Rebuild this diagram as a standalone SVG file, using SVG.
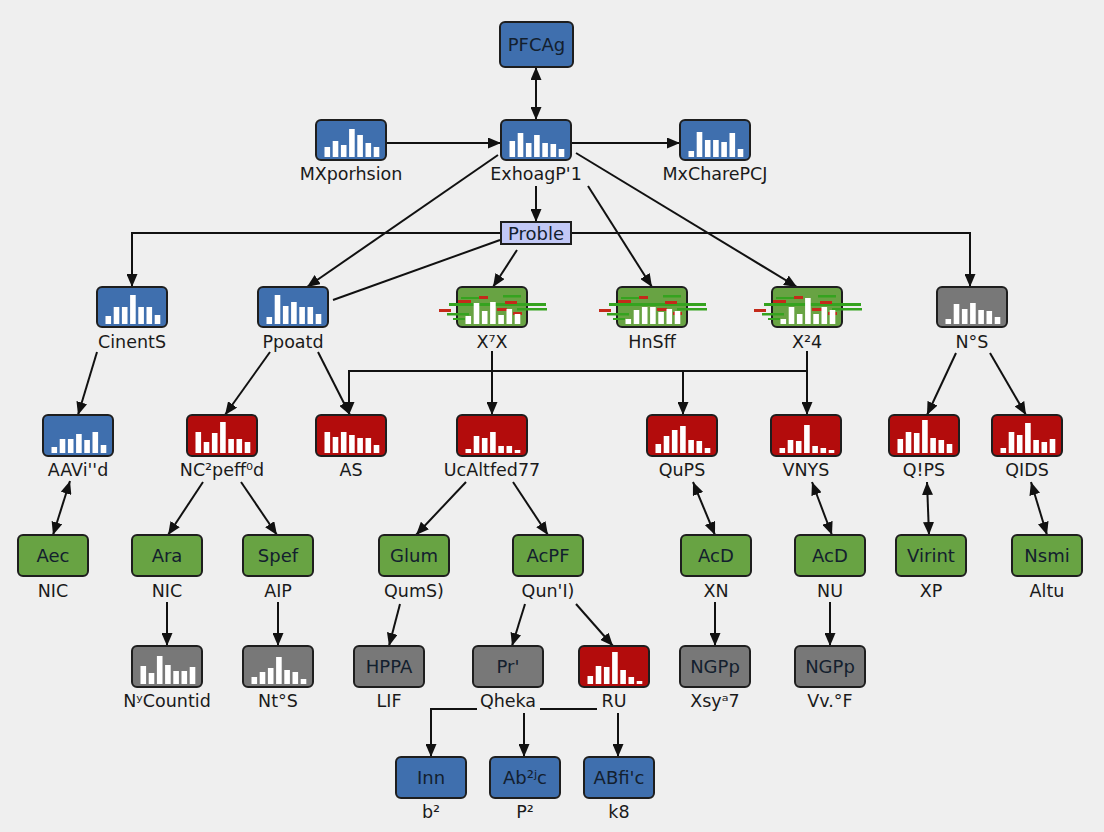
<svg xmlns="http://www.w3.org/2000/svg" xmlns:xlink="http://www.w3.org/1999/xlink" width="1104" height="832" viewBox="0 0 1104 832">
<style>
.bx{stroke:#1e1e1e;stroke-width:2}
.bl{fill:#3f6fae}.rd{fill:#b30c0c}.gr{fill:#68a343}.gy{fill:#787878}.pr{fill:#c2c8f6}
.bars{fill:#ffffff}
.lb{font-family:"DejaVu Sans",sans-serif;font-size:17.5px;fill:#1a1a1a;text-anchor:middle}
.bt{font-family:"DejaVu Sans",sans-serif;font-size:18px;fill:#13202e;text-anchor:middle}
.c{stroke:#111;stroke-width:2;fill:none}
.a{marker-end:url(#ah)}
.d{marker-start:url(#ah);marker-end:url(#ah)}
.gg{fill:#35a31f}.gx{fill:#c42a1a}
</style>
<defs>
<marker id="ah" viewBox="0 0 13 11" refX="13" refY="5.5" markerWidth="13" markerHeight="11" markerUnits="userSpaceOnUse" orient="auto-start-reverse">
<path d="M0,0 L13,5.5 L0,11 z" fill="#111"/>
</marker>
<g id="gl">
<rect class="gg" x="-8" y="16" width="97" height="3"/>
<rect class="gg" x="-10" y="26" width="22" height="2.5"/>
<rect class="gg" x="46" y="8" width="18" height="2.5"/>
<rect class="gg" x="60" y="21" width="30" height="2.5"/>
<rect class="gg" x="4" y="10" width="24" height="2"/>
<rect class="gg" x="-4" y="31" width="12" height="2"/>
<rect class="gx" x="-18" y="22" width="12" height="3"/>
<rect class="gx" x="1" y="13" width="13" height="3"/>
<rect class="gx" x="22" y="9" width="9" height="3"/>
<rect class="gx" x="48" y="14" width="12" height="3"/>
<rect class="gx" x="40" y="21" width="10" height="3"/>
<rect class="gx" x="56" y="25" width="9" height="3"/>
</g>
</defs>
<rect width="1104" height="832" fill="#efefef"/>

<g id="connectors">
<line class="c d" x1="536" y1="67" x2="536" y2="120"/>
<line class="c a" x1="387" y1="143" x2="501" y2="143"/>
<line class="c a" x1="571" y1="143" x2="680" y2="143"/>
<line class="c a" x1="536" y1="186" x2="536" y2="222"/>
<line class="c a" x1="498" y1="155" x2="307" y2="287"/>
<line class="c a" x1="576" y1="153" x2="797" y2="287"/>
<line class="c a" x1="588" y1="186" x2="652" y2="287"/>
<polyline class="c a" points="501,233 132,233 132,287"/>
<polyline class="c a" points="571,233 970,233 970,287"/>
<line class="c" x1="333" y1="300" x2="500" y2="240"/>
<line class="c a" x1="517" y1="250" x2="493" y2="287"/>
<line class="c a" x1="97" y1="352" x2="78" y2="415"/>
<line class="c a" x1="270" y1="352" x2="225" y2="415"/>
<line class="c a" x1="318" y1="352" x2="350" y2="415"/>
<line class="c" x1="348" y1="371" x2="808" y2="371"/>
<line class="c a" x1="349" y1="371" x2="349" y2="415"/>
<line class="c a" x1="492" y1="351" x2="492" y2="415"/>
<line class="c a" x1="683" y1="371" x2="683" y2="415"/>
<line class="c a" x1="807" y1="351" x2="807" y2="415"/>
<line class="c a" x1="956" y1="353" x2="927" y2="415"/>
<line class="c a" x1="990" y1="353" x2="1026" y2="415"/>
<line class="c d" x1="70" y1="481" x2="53" y2="535"/>
<line class="c a" x1="203" y1="482" x2="168" y2="535"/>
<line class="c a" x1="241" y1="482" x2="277" y2="535"/>
<line class="c a" x1="466" y1="482" x2="416" y2="535"/>
<line class="c a" x1="513" y1="482" x2="548" y2="535"/>
<line class="c d" x1="693" y1="482" x2="715" y2="535"/>
<line class="c d" x1="812" y1="482" x2="832" y2="535"/>
<line class="c d" x1="927" y1="482" x2="929" y2="535"/>
<line class="c d" x1="1031" y1="482" x2="1047" y2="535"/>
<line class="c a" x1="167" y1="602" x2="167" y2="646"/>
<line class="c a" x1="278" y1="602" x2="278" y2="646"/>
<line class="c a" x1="400" y1="604" x2="389" y2="646"/>
<line class="c a" x1="525" y1="604" x2="512" y2="646"/>
<line class="c a" x1="576" y1="604" x2="613" y2="646"/>
<line class="c a" x1="715" y1="602" x2="715" y2="646"/>
<line class="c a" x1="830" y1="602" x2="830" y2="646"/>
<polyline class="c a" points="477,709 431,709 431,757"/>
<line class="c" x1="540" y1="709" x2="597" y2="709"/>
<line class="c a" x1="524" y1="713" x2="524" y2="757"/>
<line class="c a" x1="618" y1="713" x2="618" y2="757"/>
</g>

<g id="n-pfcag"><rect class="bx bl" x="500" y="22" width="73" height="45" rx="5"/><text class="bt" x="536.5" y="51">PFCAg</text></g>

<g id="n-mxpor"><rect class="bx bl" x="316" y="120" width="70" height="40" rx="5"/><path class="bars" transform="translate(316,120)" d="M8.5 37v-10h5.6V37zM16.7 37v-16h5.6V37zM24.9 37v-12h5.6V37zM33.1 37v-28h5.6V37zM41.3 37v-22h5.6V37zM49.5 37v-14h5.6V37zM57.7 37v-10h5.6V37z"/><text class="lb" x="351" y="180">MXporhsion</text></g>

<g id="n-exhoag"><rect class="bx bl" x="501" y="120" width="70" height="40" rx="5"/><path class="bars" transform="translate(501,120)" d="M8.5 37v-16h5.6V37zM16.7 37v-24h5.6V37zM24.9 37v-14h5.6V37zM33.1 37v-22h5.6V37zM41.3 37v-14h5.6V37zM49.5 37v-13h5.6V37zM57.7 37v-8h5.6V37z"/><text class="lb" x="536" y="180">ExhoagP'1</text></g>

<g id="n-mxchare"><rect class="bx bl" x="680" y="120" width="70" height="40" rx="5"/><path class="bars" transform="translate(680,120)" d="M8.5 37v-6h5.6V37zM16.7 37v-25h5.6V37zM24.9 37v-17h5.6V37zM33.1 37v-17h5.6V37zM41.3 37v-15h5.6V37zM49.5 37v-24h5.6V37zM57.7 37v-8h5.6V37z"/><text class="lb" x="715" y="180">MxCharePCJ</text></g>

<g id="n-proble"><rect class="bx pr" x="501" y="222" width="70" height="22"/><text class="bt" x="536" y="240">Proble</text></g>

<g id="n-cinents"><rect class="bx bl" x="97" y="287" width="70" height="40" rx="5"/><path class="bars" transform="translate(97,287)" d="M8.5 37v-8h5.6V37zM16.7 37v-17h5.6V37zM24.9 37v-17h5.6V37zM33.1 37v-29h5.6V37zM41.3 37v-17h5.6V37zM49.5 37v-17h5.6V37zM57.7 37v-9h5.6V37z"/><text class="lb" x="132" y="348">CinentS</text></g>

<g id="n-ppoatd"><rect class="bx bl" x="258" y="287" width="70" height="40" rx="5"/><path class="bars" transform="translate(258,287)" d="M8.5 37v-7h5.6V37zM16.7 37v-29h5.6V37zM24.9 37v-18h5.6V37zM33.1 37v-22h5.6V37zM41.3 37v-17h5.6V37zM49.5 37v-17h5.6V37zM57.7 37v-10h5.6V37z"/><text class="lb" x="293" y="348">Ppoatd</text></g>

<g id="n-x7x"><rect class="bx gr" x="457" y="287" width="70" height="40" rx="5"/><use href="#gl" x="457" y="287"/><path class="bars" transform="translate(457,287)" d="M8.5 37v-8h5.6V37zM16.7 37v-21h5.6V37zM24.9 37v-13h5.6V37zM33.1 37v-22h5.6V37zM41.3 37v-9h5.6V37zM49.5 37v-15h5.6V37zM57.7 37v-10h5.6V37z"/><text class="lb" x="492" y="348">X⁷X</text></g>

<g id="n-hnsff"><rect class="bx gr" x="617" y="287" width="70" height="40" rx="5"/><use href="#gl" x="617" y="287"/><path class="bars" transform="translate(617,287)" d="M8.5 37v-5h5.6V37zM16.7 37v-14h5.6V37zM24.9 37v-17h5.6V37zM33.1 37v-17h5.6V37zM41.3 37v-12h5.6V37zM49.5 37v-15h5.6V37zM57.7 37v-13h5.6V37z"/><text class="lb" x="652" y="348">HnSff</text></g>

<g id="n-x24"><rect class="bx gr" x="772" y="287" width="70" height="40" rx="5"/><use href="#gl" x="772" y="287"/><path class="bars" transform="translate(772,287)" d="M8.5 37v-5h5.6V37zM16.7 37v-17h5.6V37zM24.9 37v-10h5.6V37zM33.1 37v-26h5.6V37zM41.3 37v-10h5.6V37zM49.5 37v-17h5.6V37zM57.7 37v-14h5.6V37z"/><text class="lb" x="807" y="348">X²4</text></g>

<g id="n-nos"><rect class="bx gy" x="937" y="287" width="70" height="40" rx="5"/><path class="bars" transform="translate(937,287)" d="M8.5 37v-5h5.6V37zM16.7 37v-20h5.6V37zM24.9 37v-15h5.6V37zM33.1 37v-21h5.6V37zM41.3 37v-14h5.6V37zM49.5 37v-13h5.6V37zM57.7 37v-7h5.6V37z"/><text class="lb" x="972" y="348">N°S</text></g>

<g id="n-aavid"><rect class="bx bl" x="43" y="415" width="70" height="41" rx="5"/><path class="bars" transform="translate(43,415)" d="M8.5 38v-6h5.6V38zM16.7 38v-14h5.6V38zM24.9 38v-14h5.6V38zM33.1 38v-19h5.6V38zM41.3 38v-13h5.6V38zM49.5 38v-21h5.6V38zM57.7 38v-8h5.6V38z"/><text class="lb" x="78" y="476">AAVi''d</text></g>

<g id="n-nc2"><rect class="bx rd" x="187" y="415" width="70" height="41" rx="5"/><path class="bars" transform="translate(187,415)" d="M8.5 38v-21h5.6V38zM16.7 38v-11h5.6V38zM24.9 38v-20h5.6V38zM33.1 38v-31h5.6V38zM41.3 38v-14h5.6V38zM49.5 38v-14h5.6V38zM57.7 38v-11h5.6V38z"/><text class="lb" x="222" y="476">NC²peff⁰d</text></g>

<g id="n-as"><rect class="bx rd" x="316" y="415" width="70" height="41" rx="5"/><path class="bars" transform="translate(316,415)" d="M8.5 38v-21h5.6V38zM16.7 38v-16h5.6V38zM24.9 38v-21h5.6V38zM33.1 38v-18h5.6V38zM41.3 38v-15h5.6V38zM49.5 38v-15h5.6V38zM57.7 38v-8h5.6V38z"/><text class="lb" x="351" y="476">AS</text></g>

<g id="n-ucalt"><rect class="bx rd" x="457" y="415" width="70" height="41" rx="5"/><path class="bars" transform="translate(457,415)" d="M8.5 38v-4h5.6V38zM16.7 38v-17h5.6V38zM24.9 38v-15h5.6V38zM33.1 38v-21h5.6V38zM41.3 38v-7h5.6V38zM49.5 38v-7h5.6V38zM57.7 38v-3h5.6V38z"/><text class="lb" x="492" y="476">UcAltfed77</text></g>

<g id="n-qups"><rect class="bx rd" x="647" y="415" width="70" height="41" rx="5"/><path class="bars" transform="translate(647,415)" d="M8.5 38v-9h5.6V38zM16.7 38v-17h5.6V38zM24.9 38v-23h5.6V38zM33.1 38v-27h5.6V38zM41.3 38v-13h5.6V38zM49.5 38v-12h5.6V38zM57.7 38v-5h5.6V38z"/><text class="lb" x="682" y="476">QuPS</text></g>

<g id="n-vnys"><rect class="bx rd" x="771" y="415" width="70" height="41" rx="5"/><path class="bars" transform="translate(771,415)" d="M8.5 38v-5h5.6V38zM16.7 38v-13h5.6V38zM24.9 38v-12h5.6V38zM33.1 38v-28h5.6V38zM41.3 38v-7h5.6V38zM49.5 38v-5h5.6V38zM57.7 38v-3h5.6V38z"/><text class="lb" x="806" y="476">VNYS</text></g>

<g id="n-qips"><rect class="bx rd" x="889" y="415" width="70" height="41" rx="5"/><path class="bars" transform="translate(889,415)" d="M8.5 38v-14h5.6V38zM16.7 38v-21h5.6V38zM24.9 38v-20h5.6V38zM33.1 38v-33h5.6V38zM41.3 38v-15h5.6V38zM49.5 38v-13h5.6V38zM57.7 38v-9h5.6V38z"/><text class="lb" x="924" y="476">Q!PS</text></g>

<g id="n-qids"><rect class="bx rd" x="992" y="415" width="70" height="41" rx="5"/><path class="bars" transform="translate(992,415)" d="M8.5 38v-5h5.6V38zM16.7 38v-21h5.6V38zM24.9 38v-18h5.6V38zM33.1 38v-30h5.6V38zM41.3 38v-13h5.6V38zM49.5 38v-11h5.6V38zM57.7 38v-14h5.6V38z"/><text class="lb" x="1027" y="476">QIDS</text></g>

<g id="n-aec"><rect class="bx gr" x="18" y="535" width="70" height="41" rx="5"/><text class="bt" x="53" y="562">Aec</text><text class="lb" x="53" y="597">NIC</text></g>
<g id="n-ara"><rect class="bx gr" x="132" y="535" width="70" height="41" rx="5"/><text class="bt" x="167" y="562">Ara</text><text class="lb" x="167" y="597">NIC</text></g>
<g id="n-spef"><rect class="bx gr" x="243" y="535" width="70" height="41" rx="5"/><text class="bt" x="278" y="562">Spef</text><text class="lb" x="278" y="597">AIP</text></g>
<g id="n-glum"><rect class="bx gr" x="379" y="535" width="70" height="41" rx="5"/><text class="bt" x="414" y="562">Glum</text><text class="lb" x="414" y="597">QumS)</text></g>
<g id="n-acpf"><rect class="bx gr" x="513" y="535" width="70" height="41" rx="5"/><text class="bt" x="548" y="562">AcPF</text><text class="lb" x="548" y="597">Qun'I)</text></g>
<g id="n-acd1"><rect class="bx gr" x="681" y="535" width="70" height="41" rx="5"/><text class="bt" x="716" y="562">AcD</text><text class="lb" x="716" y="597">XN</text></g>
<g id="n-acd2"><rect class="bx gr" x="795" y="535" width="70" height="41" rx="5"/><text class="bt" x="830" y="562">AcD</text><text class="lb" x="830" y="597">NU</text></g>
<g id="n-virint"><rect class="bx gr" x="896" y="535" width="70" height="41" rx="5"/><text class="bt" x="931" y="562">Virint</text><text class="lb" x="931" y="597">XP</text></g>
<g id="n-nsmi"><rect class="bx gr" x="1012" y="535" width="70" height="41" rx="5"/><text class="bt" x="1047" y="562">Nsmi</text><text class="lb" x="1047" y="597">Altu</text></g>

<g id="n-nycount"><rect class="bx gy" x="132" y="646" width="70" height="41" rx="5"/><path class="bars" transform="translate(132,646)" d="M8.5 38v-18h5.6V38zM16.7 38v-11h5.6V38zM24.9 38v-28h5.6V38zM33.1 38v-19h5.6V38zM41.3 38v-13h5.6V38zM49.5 38v-13h5.6V38zM57.7 38v-17h5.6V38z"/><text class="lb" x="167" y="707">NʸCountid</text></g>
<g id="n-ntos"><rect class="bx gy" x="243" y="646" width="70" height="41" rx="5"/><path class="bars" transform="translate(243,646)" d="M8.5 38v-7h5.6V38zM16.7 38v-12h5.6V38zM24.9 38v-16h5.6V38zM33.1 38v-27h5.6V38zM41.3 38v-14h5.6V38zM49.5 38v-12h5.6V38zM57.7 38v-5h5.6V38z"/><text class="lb" x="278" y="707">Nt°S</text></g>
<g id="n-hppa"><rect class="bx gy" x="354" y="646" width="70" height="41" rx="5"/><text class="bt" x="389" y="673">HPPA</text><text class="lb" x="389" y="707">LIF</text></g>
<g id="n-pr"><rect class="bx gy" x="473" y="646" width="70" height="41" rx="5"/><text class="bt" x="508" y="673">Pr'</text><text class="lb" x="508" y="707">Qheka</text></g>
<g id="n-ru"><rect class="bx rd" x="579" y="646" width="70" height="41" rx="5"/><path class="bars" transform="translate(579,646)" d="M8.5 38v-8h5.6V38zM16.7 38v-18h5.6V38zM24.9 38v-17h5.6V38zM33.1 38v-32h5.6V38zM41.3 38v-14h5.6V38zM49.5 38v-7h5.6V38zM57.7 38v-3h5.6V38z"/><text class="lb" x="614" y="707">RU</text></g>
<g id="n-ngpp1"><rect class="bx gy" x="680" y="646" width="70" height="41" rx="5"/><text class="bt" x="715" y="673">NGPp</text><text class="lb" x="715" y="707">Xsyᵃ7</text></g>
<g id="n-ngpp2"><rect class="bx gy" x="795" y="646" width="70" height="41" rx="5"/><text class="bt" x="830" y="673">NGPp</text><text class="lb" x="830" y="707">Vv.°F</text></g>

<g id="n-inn"><rect class="bx bl" x="396" y="757" width="70" height="41" rx="5"/><text class="bt" x="431" y="784">Inn</text><text class="lb" x="431" y="818">b²</text></g>
<g id="n-ab2c"><rect class="bx bl" x="490" y="757" width="70" height="41" rx="5"/><text class="bt" x="525" y="784">Ab²ʲc</text><text class="lb" x="525" y="818">P²</text></g>
<g id="n-abfic"><rect class="bx bl" x="584" y="757" width="70" height="41" rx="5"/><text class="bt" x="619" y="784">ABfi'c</text><text class="lb" x="619" y="818">k8</text></g>
</svg>
